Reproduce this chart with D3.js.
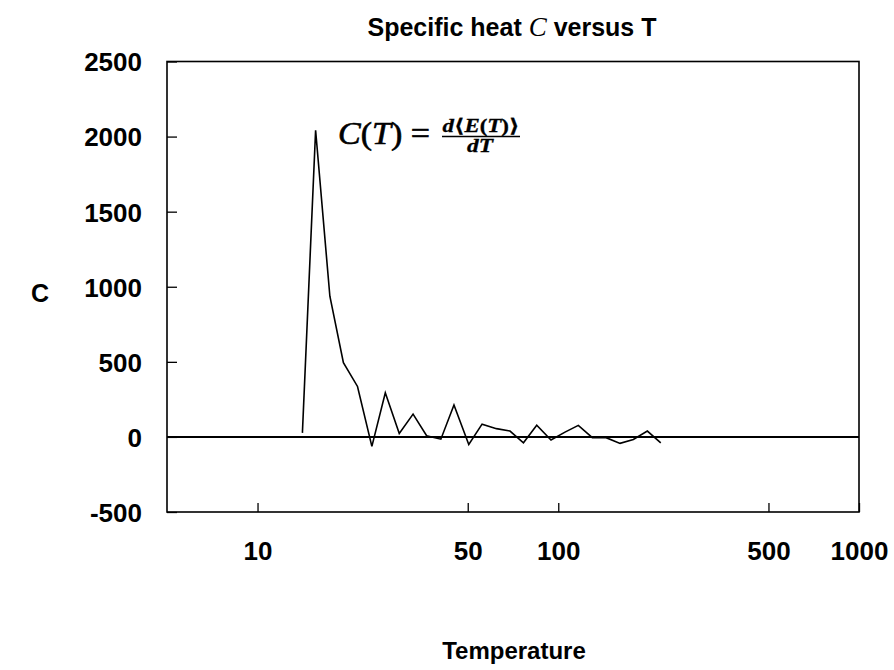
<!DOCTYPE html>
<html>
<head>
<meta charset="utf-8">
<script src="https://cdn.jsdelivr.net/npm/d3@7"></script>
<style>
  html, body { margin: 0; padding: 0; background: #fff; }
  svg { display: block; }
  .tick text { font-family: "Liberation Sans", Arial, sans-serif; font-weight: bold; font-size: 26px; fill: #000; }
</style>
</head>
<body>
<svg id="chart" width="894" height="670"></svg>
<script>
// ---- data ----
const temperature = [14.1, 15.6, 17.4, 19.3, 21.5, 24.0, 26.6, 29.6, 32.9, 36.5, 40.7, 45.0, 50.4, 55.8, 62.3, 69.1, 76.6, 84.8, 94.6, 105.3, 116.6, 129.8, 144.2, 160.5, 177.7, 197.8, 219.2];
const specificHeat = [27, 2042, 937, 494, 336, -63, 294, 23, 152, 8, -15, 213, -50, 85, 55, 39, -39, 78, -21, 32, 77, -5, -5, -43, -17, 39, -39];
const xTickValues = [10, 50, 100, 500, 1000];
const xTickLabels = ["10", "50", "100", "500", "1000"];
const yTickValues = [-500, 0, 500, 1000, 1500, 2000, 2500];
const yTickLabels = ["-500", "0", "500", "1000", "1500", "2000", "2500"];
const xDomain = [5, 1000];
const yDomain = [-500, 2500];

// ---- layout ----
const plotLeft = 167, plotRight = 859, plotTop = 61.5, plotBottom = 512;
const svg = d3.select("#chart");

const x = d3.scaleLog().domain(xDomain).range([plotLeft, plotRight]);
const y = d3.scaleLinear().domain(yDomain).range([plotBottom, plotTop]);

// frame
svg.append("rect")
  .attr("x", plotLeft).attr("y", plotTop)
  .attr("width", plotRight - plotLeft).attr("height", plotBottom - plotTop)
  .attr("fill", "none").attr("stroke", "#000").attr("stroke-width", 1.6);

// y axis (ticks inside)
const yAxis = d3.axisLeft(y)
  .tickValues(yTickValues)
  .tickFormat((d, i) => yTickLabels[i])
  .tickSize(-10)
  .tickPadding(25);
const gy = svg.append("g").attr("transform", `translate(${plotLeft},0)`).call(yAxis);
gy.select(".domain").remove();
gy.selectAll(".tick line").attr("stroke", "#000").attr("stroke-width", 1.3);
gy.selectAll(".tick text").attr("dy", "0.36em");

// x axis (ticks inside)
const xAxis = d3.axisBottom(x)
  .tickValues(xTickValues)
  .tickFormat((d, i) => xTickLabels[i])
  .tickSize(-9)
  .tickPadding(30);
const gx = svg.append("g").attr("transform", `translate(0,${plotBottom})`).call(xAxis);
gx.select(".domain").remove();
gx.selectAll(".tick line").attr("stroke", "#000").attr("stroke-width", 1.3);

// zero line
svg.append("line")
  .attr("x1", plotLeft).attr("x2", plotRight)
  .attr("y1", y(0)).attr("y2", y(0))
  .attr("stroke", "#000").attr("stroke-width", 2);

// data line
const pts = temperature.map((t, i) => [t, specificHeat[i]]);
svg.append("path")
  .datum(pts)
  .attr("fill", "none")
  .attr("stroke", "#000")
  .attr("stroke-width", 1.6)
  .attr("stroke-linejoin", "miter")
  .attr("d", d3.line().x(d => x(d[0])).y(d => y(d[1])));

// title
const title = svg.append("text")
  .attr("x", 512).attr("y", 36)
  .attr("text-anchor", "middle")
  .style("font-family", "'Liberation Sans', Arial, sans-serif")
  .style("font-weight", "bold")
  .style("font-size", "25px");
title.append("tspan").text("Specific heat ");
title.append("tspan").text("C")
  .style("font-family", "'Liberation Serif', serif")
  .style("font-style", "italic").style("font-weight", "normal").style("font-size", "27px");
title.append("tspan").text(" versus T");

// axis labels
svg.append("text")
  .attr("x", 514).attr("y", 659)
  .attr("text-anchor", "middle")
  .style("font-family", "'Liberation Sans', Arial, sans-serif")
  .style("font-weight", "bold").style("font-size", "24px")
  .text("Temperature");

svg.append("text")
  .attr("x", 40).attr("y", 302)
  .attr("text-anchor", "middle")
  .style("font-family", "'Liberation Sans', Arial, sans-serif")
  .style("font-weight", "bold").style("font-size", "25px")
  .text("C");

// formula annotation
const f = svg.append("g")
  .style("font-family", "'Liberation Serif', 'DejaVu Serif', serif")
  .attr("fill", "#000").attr("stroke", "#000");
const lhs = f.append("text").attr("x", 338).attr("y", 144)
  .attr("textLength", 92).attr("lengthAdjust", "spacingAndGlyphs")
  .attr("stroke-width", 0.6)
  .style("font-size", "31px");
lhs.append("tspan").text("C").style("font-style", "italic");
lhs.append("tspan").text("(");
lhs.append("tspan").text("T").style("font-style", "italic");
lhs.append("tspan").text(") =");

const num = f.append("text").attr("x", 481).attr("y", 132)
  .attr("text-anchor", "middle")
  .attr("textLength", 77).attr("lengthAdjust", "spacingAndGlyphs")
  .attr("stroke-width", 0.3)
  .style("font-size", "19px").style("font-weight", "bold");
num.append("tspan").text("d").style("font-style", "italic");
num.append("tspan").text("\u27E8");
num.append("tspan").text("E").style("font-style", "italic");
num.append("tspan").text("(");
num.append("tspan").text("T").style("font-style", "italic");
num.append("tspan").text(")");
num.append("tspan").text("\u27E9");

f.append("line")
  .attr("x1", 442).attr("x2", 520)
  .attr("y1", 136.5).attr("y2", 136.5)
  .attr("stroke", "#000").attr("stroke-width", 1.4);

f.append("text").attr("x", 480).attr("y", 152)
  .attr("text-anchor", "middle")
  .attr("textLength", 26).attr("lengthAdjust", "spacingAndGlyphs")
  .attr("stroke-width", 0.3)
  .style("font-size", "19px").style("font-weight", "bold").style("font-style", "italic")
  .text("dT");
</script>
</body>
</html>
